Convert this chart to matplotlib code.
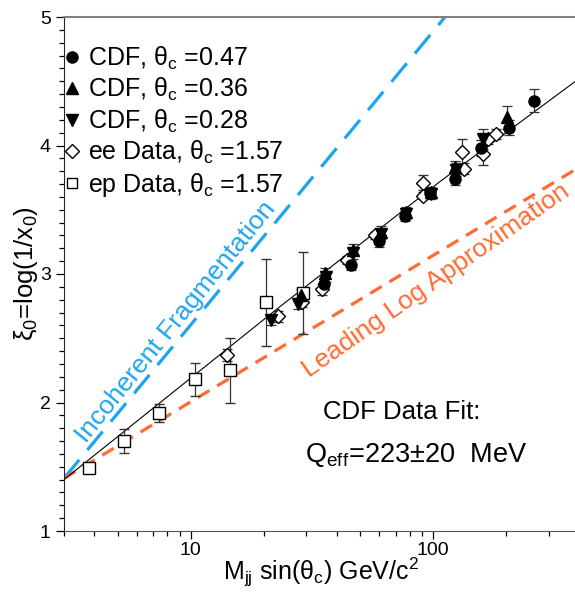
import numpy as np
import matplotlib.pyplot as plt
from matplotlib.lines import Line2D
from matplotlib.ticker import MultipleLocator, FixedLocator, NullFormatter

plt.rcParams.update({
    "font.family": ["Liberation Sans", "DejaVu Sans"],
    "mathtext.fontset": "custom",
    "mathtext.rm": "Liberation Sans",
    "mathtext.it": "Liberation Sans:italic",
    "font.size": 16,
})

BLUE = "#1ea4ef"
ORANGE = "#ff6b33"

# CDF dijet points, one list per cone angle
cdf47_x = [35.4, 46.0, 60.0, 76.6, 97.2, 123, 158, 205, 260]
cdf47_y = [2.92, 3.07, 3.26, 3.45, 3.63, 3.74, 3.98, 4.14, 4.35]
cdf47_e = [0.04, 0.04, 0.05, 0.04, 0.04, 0.05, 0.06, 0.06, 0.09]

cdf36_x = [28.4, 35.8, 46.6, 61.0, 77.0, 98.0, 123, 202]
cdf36_y = [2.84, 3.01, 3.19, 3.33, 3.48, 3.64, 3.83, 4.22]
cdf36_e = [0.04, 0.04, 0.04, 0.04, 0.04, 0.04, 0.05, 0.09]

cdf28_x = [21.4, 27.6, 36.0, 46.8, 61.0, 77.0, 98.0, 124, 160]
cdf28_y = [2.64, 2.77, 2.98, 3.16, 3.31, 3.47, 3.62, 3.81, 4.05]
cdf28_e = [0.04, 0.04, 0.04, 0.04, 0.04, 0.04, 0.04, 0.05, 0.08]

# e+e- and ep measurements
ee_x = [14.05, 23.0, 28.9, 34.9, 44.0, 57.6, 90.6, 90.6, 131, 134, 161, 169, 182]
ee_y = [2.37, 2.67, 2.78, 2.88, 3.11, 3.30, 3.71, 3.61, 3.95, 3.82, 3.93, 4.05, 4.09]
ee_e = [0.05, 0.04, 0.04, 0.04, 0.03, 0.03, 0.06, 0.03, 0.10, 0.04, 0.08, 0.04, 0.04]

ep_x = [3.80, 5.30, 7.38, 10.4, 14.5, 20.4, 29.1]
ep_y = [1.49, 1.70, 1.92, 2.18, 2.25, 2.78, 2.85]
ep_e = [0.04, 0.09, 0.07, 0.13, 0.25, 0.34, 0.32]

# theory curves and fit
fit_x = [3.0, 23.3, 45.4, 106.9, 400]
fit_y = [1.40, 2.745, 3.17, 3.72, 4.52]
incoh_x = [3.0, 112]
incoh_y = [1.41, 5.0]
lla_x = [3.0, 400]
lla_y = [1.41, 3.83]

fig = plt.figure(figsize=(5.75, 5.92), dpi=100)
ax = fig.add_axes([64/575, 61/592, 515/575, 514/592])

ax.plot(fit_x, fit_y, color="black", lw=0.8, zorder=2)
ax.plot(incoh_x, incoh_y, color=BLUE, lw=2.3, dashes=(7.5, 4.0), zorder=1)
ax.plot(lla_x, lla_y, color=ORANGE, lw=2.3, dashes=(4.2, 2.8), zorder=1)

eb = dict(ecolor="#333333", elinewidth=0.9, capsize=3.5, capthick=0.9,
          ls="none", zorder=3)
ax.errorbar(ep_x, ep_y, yerr=ep_e, marker="s", ms=8, mfc="white",
            mec="black", mew=1.0, **eb)
ax.errorbar(ee_x, ee_y, yerr=ee_e, marker="D", ms=7.5, mfc="white",
            mec="black", mew=1.0, **eb)
ax.errorbar(cdf28_x, cdf28_y, yerr=cdf28_e, marker="v", ms=8, color="black", **eb)
ax.errorbar(cdf36_x, cdf36_y, yerr=cdf36_e, marker="^", ms=8, color="black", **eb)
ax.errorbar(cdf47_x, cdf47_y, yerr=cdf47_e, marker="o", ms=8, color="black", **eb)

ax.set_xscale("log")
ax.set_xlim(3, 400)
ax.set_ylim(1, 5)
ax.set_xticks([10, 100])
ax.set_xticklabels(["10", "100"])
ax.xaxis.set_minor_locator(FixedLocator(
    [3, 4, 5, 6, 7, 8, 9, 20, 30, 40, 50, 60, 70, 80, 90, 200, 300]))
ax.xaxis.set_minor_formatter(NullFormatter())
ax.set_yticks([1, 2, 3, 4, 5])
ax.yaxis.set_minor_locator(MultipleLocator(0.1))
ax.tick_params(which="both", direction="out", top=False, right=False,
               labelsize=14, width=0.9)
ax.tick_params(which="major", length=6)
ax.tick_params(which="minor", length=3.5)
ax.tick_params(axis="x", pad=2)

ax.spines["top"].set_color("#808080")
ax.spines["top"].set_linewidth(1.5)
ax.spines["left"].set_color("#222222")
ax.spines["bottom"].set_color("#555555")
ax.spines["right"].set_visible(False)

ax.set_xlabel(r"M$_{\rm jj}$ sin(θ$_{\rm c}$) GeV/c$^{\rm 2}$", fontsize=18, labelpad=-2)
ax.set_ylabel(r"ξ$_{\rm 0}$=log(1/x$_{\rm 0}$)", fontsize=18.5, labelpad=0)

handles = [
    Line2D([], [], ls="none", marker="o", ms=8, color="black"),
    Line2D([], [], ls="none", marker="^", ms=8, color="black"),
    Line2D([], [], ls="none", marker="v", ms=8, color="black"),
    Line2D([], [], ls="none", marker="D", ms=7, mfc="white", mec="black"),
    Line2D([], [], ls="none", marker="s", ms=7, mfc="white", mec="black"),
]
labels = [
    r"CDF, θ$_{\rm c}$ =0.47",
    r"CDF, θ$_{\rm c}$ =0.36",
    r"CDF, θ$_{\rm c}$ =0.28",
    r"ee Data, θ$_{\rm c}$ =1.57",
    r"ep Data, θ$_{\rm c}$ =1.57",
]
ax.legend(handles, labels, loc="upper left", bbox_to_anchor=(0.003, 0.946),
          frameon=False, fontsize=18, handlelength=0.5, handletextpad=0.4,
          labelspacing=0.17, borderaxespad=0, borderpad=0)

ax.text(8.67, 2.63, "Incoherent Fragmentation", color=BLUE, fontsize=19,
        rotation=51, ha="center", va="center", rotation_mode="anchor")
ax.text(103, 2.95, "Leading Log Approximation", color=ORANGE, fontsize=19,
        rotation=35, ha="center", va="center", rotation_mode="anchor")

fig.text(323/575, 1 - 412/592, "CDF Data Fit:", fontsize=18.5, va="center")
fig.text(305/575, 1 - 455/592, r"Q$_{\rm eff}$=223±20  MeV", fontsize=19.5,
         va="center")

fig.savefig("out.png", dpi=100)
